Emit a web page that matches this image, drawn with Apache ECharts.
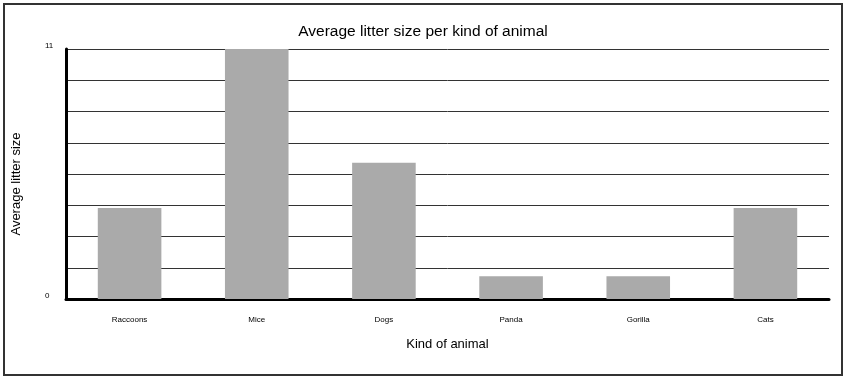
<!DOCTYPE html>
<html>
<head>
<meta charset="utf-8">
<script src="https://cdn.jsdelivr.net/npm/echarts@6/dist/echarts.min.js"></script>
<style>html,body{margin:0;padding:0;background:#fff}#c{width:846px;height:379px}</style>
</head>
<body>
<div id="c"></div>
<script>
const categories = ['Raccoons', 'Mice', 'Dogs', 'Panda', 'Gorilla', 'Cats'];
const litterSizes = [4, 11, 6, 1, 1, 4];
const yTickLabels = [0, 11];

const chart = echarts.init(document.getElementById('c'), null, {renderer: 'canvas'});
chart.setOption({
  animation: false,
  backgroundColor: '#fff',
  textStyle: {fontFamily: 'Liberation Sans, Arial, sans-serif'},
  title: {
    text: 'Average litter size per kind of animal',
    left: 'center', top: 19,
    textStyle: {fontSize: 15.5, fontWeight: 'normal', color: '#000', fontFamily: 'Liberation Sans, Arial, sans-serif'}
  },
  graphic: [{
    type: 'rect', shape: {x: 4, y: 4, width: 838, height: 371},
    style: {fill: 'none', stroke: '#333', lineWidth: 2}, silent: true
  }],
  grid: {left: 66, right: 17, top: 49, bottom: 80, outerBoundsMode: 'none', containLabel: false},
  xAxis: {
    type: 'category', data: categories,
    name: 'Kind of animal', nameLocation: 'middle', nameGap: 39,
    nameTextStyle: {fontSize: 13, color: '#000'},
    axisLine: {lineStyle: {color: '#000', width: 3}},
    axisTick: {show: false},
    axisLabel: {fontSize: 8, color: '#000', margin: 17}
  },
  yAxis: {
    type: 'value', min: 0, max: 11, interval: 1.375,
    name: 'Average litter size', nameLocation: 'middle', nameGap: 43,
    nameTextStyle: {fontSize: 13, color: '#000', padding: [0, 20, 0, 0]},
    axisLine: {show: true, lineStyle: {color: '#000', width: 3}},
    axisTick: {show: false},
    splitLine: {lineStyle: {color: '#333', width: 1}},
    axisLabel: {
      fontSize: 8, color: '#000', align: 'left', verticalAlign: 'bottom', margin: 21, padding: [0, 0, -1, 0],
      formatter: v => yTickLabels.includes(v) ? String(v) : ''
    }
  },
  series: [{
    type: 'bar', data: litterSizes, barWidth: '50%',
    itemStyle: {color: '#aaaaaa'}
  }]
});
</script>
</body>
</html>
